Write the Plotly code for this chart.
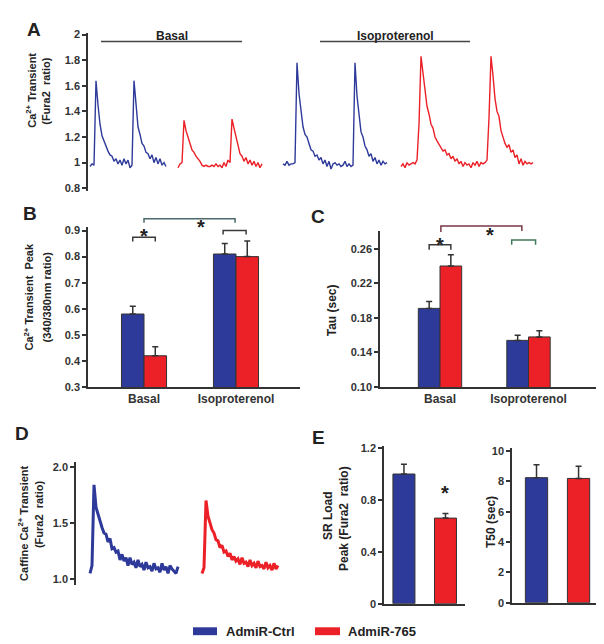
import plotly.graph_objects as go

W, H = 604, 644
BLUE = "#2e3a9a"
RED = "#ec2027"
INK = "#333333"
FONT = "Liberation Sans, Arial, sans-serif"

# ---- Panel A: Fura2 ratio traces, one sample every 2 time units
a_step = 2
a_starts = [82, 170, 275, 393]
a_basal_ctrl = [0.97, 0.99, 0.98, 1.64, 1.45, 1.30, 1.21, 1.17, 1.12, 1.09, 1.06, 1.05, 1.01, 1.03,
                0.99, 1.02, 0.98, 1.03, 0.99, 1.02, 0.96, 0.98, 1.64, 1.42, 1.28, 1.22, 1.15, 1.13,
                1.08, 1.07, 1.03, 1.06, 1.00, 1.04, 0.99, 1.03, 0.98, 1.00, 0.97]
a_basal_765 = [0.96, 0.99, 1.00, 1.33, 1.25, 1.19, 1.15, 1.10, 1.08, 1.05, 1.03, 1.01, 0.98, 0.97,
               0.98, 0.97, 0.97, 0.98, 0.97, 0.99, 0.97, 0.98, 0.96, 1.00, 0.97, 1.02, 1.00, 1.34,
               1.27, 1.20, 1.12, 1.07, 1.05, 1.01, 1.04, 0.99, 1.02, 0.98, 1.01, 0.97, 1.00, 0.96, 0.99]
a_iso_ctrl = [0.99, 0.98, 1.01, 0.98, 0.99, 0.99, 1.00, 1.78, 1.54, 1.40, 1.28, 1.22, 1.20, 1.15,
              1.10, 1.09, 1.05, 1.06, 1.02, 1.04, 0.99, 1.02, 0.97, 1.01, 0.95, 0.99, 1.00, 0.98,
              0.99, 0.97, 0.98, 1.01, 0.97, 0.99, 0.97, 0.98, 1.78, 1.52, 1.36, 1.24, 1.20, 1.13,
              1.10, 1.05, 1.07, 1.01, 1.04, 0.99, 1.02, 0.98, 1.01, 0.99, 1.00]
a_iso_765 = [0.97, 0.99, 0.96, 1.00, 0.98, 0.99, 1.00, 0.99, 1.02, 1.30, 1.83, 1.70, 1.55, 1.44,
             1.38, 1.30, 1.27, 1.20, 1.17, 1.14, 1.12, 1.09, 1.10, 1.06, 1.07, 1.03, 1.05, 1.01,
             1.03, 0.99, 1.01, 0.97, 1.00, 0.98, 0.99, 0.96, 1.00, 0.98, 1.01, 0.97, 1.00, 0.99,
             1.00, 1.02, 1.35, 1.83, 1.68, 1.50, 1.40, 1.36, 1.25, 1.20, 1.15, 1.12, 1.14, 1.08,
             1.10, 1.04, 1.06, 0.99, 1.03, 0.98, 1.01, 0.99, 1.00, 0.99, 1.00]

# ---- Panels B and C: group means and SEM
groups = ["Basal", "Isoproterenol"]
b_ctrl, b_ctrl_err = [0.58, 0.81], [0.03, 0.04]
b_765, b_765_err = [0.42, 0.80], [0.035, 0.06]
c_ctrl, c_ctrl_err = [0.191, 0.154], [0.008, 0.006]
c_765, c_765_err = [0.240, 0.158], [0.013, 0.007]

# ---- Panel D: caffeine-induced transients
d_step = 2
d_starts = [82, 194]
d_ctrl = [1.05, 1.12, 1.84, 1.64, 1.58, 1.51, 1.46, 1.41, 1.40, 1.33, 1.36, 1.27, 1.28, 1.24,
          1.25, 1.17, 1.22, 1.16, 1.19, 1.12, 1.19, 1.13, 1.15, 1.10, 1.17, 1.11, 1.13, 1.08,
          1.15, 1.10, 1.11, 1.07, 1.14, 1.09, 1.10, 1.06, 1.14, 1.08, 1.11, 1.05, 1.12, 1.09,
          1.07, 1.05, 1.11]
d_765 = [1.05, 1.10, 1.70, 1.56, 1.50, 1.44, 1.41, 1.35, 1.34, 1.28, 1.30, 1.24, 1.25, 1.20,
         1.23, 1.17, 1.20, 1.16, 1.18, 1.13, 1.19, 1.14, 1.15, 1.11, 1.17, 1.12, 1.14, 1.10,
         1.16, 1.11, 1.12, 1.09, 1.15, 1.10, 1.12, 1.08, 1.14, 1.09, 1.12]

# ---- Panel E: SR load and T50
e_sr, e_sr_err = [1.0, 0.66], [0.075, 0.035]
e_t50, e_t50_err = [8.25, 8.2], [0.85, 0.8]


def xd(p0, p1):
    return [p0 / W, p1 / W]


def yd(top, bottom):
    return [1 - bottom / H, 1 - top / H]


AX = {
    "A": dict(xa="x", ya="y", dx=xd(80, 530), dy=yd(21, 182), xr=[80, 530], yr=[0.777, 2.015]),
    "B": dict(xa="x2", ya="y2", dx=xd(80, 292), dy=yd(218, 381), xr=[-0.609, 1.696], yr=[0.3, 0.915]),
    "C": dict(xa="x3", ya="y3", dx=xd(372, 592), dy=yd(222, 381), xr=[-0.678, 1.808], yr=[0.1, 0.281]),
    "D": dict(xa="x4", ya="y4", dx=xd(68, 280), dy=yd(457, 582), xr=[68, 280], yr=[0.947, 2.044]),
    "E1": dict(xa="x5", ya="y5", dx=xd(376, 457), dy=yd(441, 601), xr=[-0.48, 1.47], yr=[0, 1.215]),
    "E2": dict(xa="x6", ya="y6", dx=xd(504, 592), dy=yd(443, 600), xr=[-0.583, 1.51], yr=[0, 10.2]),
}


def y_paper(key, v):
    a = AX[key]
    d, r = a["dy"], a["yr"]
    return d[0] + (v - r[0]) / (r[1] - r[0]) * (d[1] - d[0])


def err(vals):
    return dict(type="data", array=vals, arrayminus=[0] * len(vals), symmetric=False,
                color=INK, thickness=1.5, width=3)


fig = go.Figure()

# A traces
for vals, t0, col in zip([a_basal_ctrl, a_basal_765, a_iso_ctrl, a_iso_765], a_starts,
                         [BLUE, RED, BLUE, RED]):
    fig.add_trace(go.Scatter(x=[t0 + a_step * i for i in range(len(vals))], y=vals, mode="lines",
                             line=dict(color=col, width=1.4), xaxis="x", yaxis="y", showlegend=False))

# B and C bars
pos = [0, 1]
for key, ctrl, ce, mir, me in [("B", b_ctrl, b_ctrl_err, b_765, b_765_err),
                               ("C", c_ctrl, c_ctrl_err, c_765, c_765_err)]:
    a = AX[key]
    fig.add_trace(go.Bar(x=pos, y=ctrl, error_y=err(ce), marker=dict(color=BLUE, line=dict(color=INK, width=1)),
                         xaxis=a["xa"], yaxis=a["ya"], showlegend=False))
    fig.add_trace(go.Bar(x=pos, y=mir, error_y=err(me), marker=dict(color=RED, line=dict(color=INK, width=1)),
                         xaxis=a["xa"], yaxis=a["ya"], showlegend=False))

# D traces
for vals, t0, col in zip([d_ctrl, d_765], d_starts, [BLUE, RED]):
    fig.add_trace(go.Scatter(x=[t0 + d_step * i for i in range(len(vals))], y=vals, mode="lines",
                             line=dict(color=col, width=3), xaxis="x4", yaxis="y4", showlegend=False))

# E bars
for key, vals, ev in [("E1", e_sr, e_sr_err), ("E2", e_t50, e_t50_err)]:
    a = AX[key]
    fig.add_trace(go.Bar(x=pos, y=vals, width=0.53, error_y=err(ev),
                         marker=dict(color=[BLUE, RED], line=dict(color=INK, width=1)),
                         xaxis=a["xa"], yaxis=a["ya"], showlegend=False))

tickfont = dict(family=FONT, size=11, color=INK, weight="bold")
axline = dict(showline=True, linecolor=INK, linewidth=1.5, showgrid=False, zeroline=False,
              ticks="outside", ticklen=4, tickwidth=1.5, tickcolor=INK, tickfont=tickfont)

yticks = {
    "A": dict(tickvals=[0.8, 1, 1.2, 1.4, 1.6, 1.8, 2]),
    "B": dict(tickvals=[0.3, 0.4, 0.5, 0.6, 0.7, 0.8, 0.9]),
    "C": dict(tickvals=[0.10, 0.14, 0.18, 0.22, 0.26], tickformat=".2f"),
    "D": dict(tickvals=[1.0, 1.5, 2.0], tickformat=".1f"),
    "E1": dict(tickvals=[0, 0.4, 0.8, 1.2], ticktext=["0", "0.4", "0.8", "1.2"]),
    "E2": dict(tickvals=[0, 2, 4, 6, 8, 10]),
}

layout_axes = {}
for key, a in AX.items():
    xn = "xaxis" + a["xa"][1:]
    yn = "yaxis" + a["ya"][1:]
    if key in ("A", "D"):
        xcfg = dict(visible=False)
    elif key in ("B", "C"):
        xcfg = dict(axline, ticks="", tickvals=pos, ticktext=groups,
                    tickfont=dict(tickfont, size=12))
    else:
        xcfg = dict(axline, ticks="", showticklabels=False)
    layout_axes[xn] = dict(xcfg, domain=a["dx"], range=a["xr"], anchor=a["ya"])
    layout_axes[yn] = dict(axline, domain=a["dy"], range=a["yr"], anchor=a["xa"], **yticks[key])

shapes = []
annotations = []


def bracket(key, x0, x1, top, leg0, leg1, color):
    yt, y0, y1 = (y_paper(key, v) for v in (top, leg0, leg1))
    shapes.append(dict(type="path", xref=AX[key]["xa"], yref="paper",
                       path=f"M {x0},{y0} L {x0},{yt} L {x1},{yt} L {x1},{y1}",
                       line=dict(color=color, width=1.5)))


def star(key, x, y):
    annotations.append(dict(text="*", x=x, y=y_paper(key, y), xref=AX[key]["xa"], yref="paper",
                            showarrow=False, yshift=-5,
                            font=dict(family=FONT, size=20, color="#222", weight="bold")))


# significance marks
bracket("B", -0.1225, 0.1225, 0.874, 0.858, 0.858, "#3a3a3a")
bracket("B", 0.86, 1.11, 0.900, 0.885, 0.885, "#3a3a3a")
bracket("B", 0.0, 0.99, 0.945, 0.930, 0.930, "#4a6a6c")
star("B", 0.0, 0.897)
star("B", 0.62, 0.983)
bracket("C", -0.1225, 0.1225, 0.2646, 0.2589, 0.2589, "#3a3a3a")
bracket("C", 0.81, 1.08, 0.270, 0.2646, 0.2646, "#3f7a5a")
bracket("C", 0.01, 0.925, 0.2863, 0.2794, 0.2806, "#7a3848")
star("C", 0.0, 0.270)
star("C", 0.565, 0.2966)
star("E1", 1, 0.79)

# condition bars over panel A
for label, x0, x1 in [("Basal", 93, 234), ("Isoproterenol", 312, 462)]:
    shapes.append(dict(type="line", xref="x", yref="paper", x0=x0, x1=x1,
                       y0=1 - 30 / H, y1=1 - 30 / H, line=dict(color="#444", width=1.5)))
    annotations.append(dict(text=label, x=(x0 + x1) / 2, xref="x", y=1 - 15 / H, yref="paper",
                            showarrow=False, font=dict(family=FONT, size=12, color="#222", weight="bold")))


def ptext(text, px, py, size=11, angle=0):
    annotations.append(dict(text=text, x=px / W, y=1 - py / H, xref="paper", yref="paper",
                            showarrow=False, textangle=angle, xanchor="center", yanchor="middle",
                            font=dict(family=FONT, size=size, color="#222", weight="bold")))


# panel letters
for letter, px, py in [("A", 26, 18), ("B", 22, 205), ("C", 310, 208), ("D", 14, 428), ("E", 310, 432)]:
    ptext(letter, px, py, size=19)

# y axis titles
ptext("Ca<sup>2+</sup> Transient", 23, 80, angle=-90)
ptext("(Fura2  ratio)", 38, 80, angle=-90)
ptext("Ca<sup>2+</sup> Transient  Peak", 21, 290, angle=-90)
ptext("(340/380nm ratio)", 39, 290, angle=-90)
ptext("Tau (sec)", 324, 303, size=12, angle=-90)
ptext("Caffine Ca<sup>2+</sup> Transient", 15, 520, angle=-90)
ptext("(Fura2  ratio)", 31, 510, angle=-90)
ptext("SR Load", 320, 512, size=12, angle=-90)
ptext("Peak (Fura2  ratio)", 336, 515, size=12, angle=-90)
ptext("T50 (sec)", 483, 518, size=12, angle=-90)

# legend
for col, label, rx0, rx1, tx in [(BLUE, "AdmiR-Ctrl", 185, 209, 252), (RED, "AdmiR-765", 307, 332, 374)]:
    shapes.append(dict(type="rect", xref="paper", yref="paper", x0=rx0 / W, x1=rx1 / W,
                       y0=1 - 633 / H, y1=1 - 625 / H, fillcolor=col, line=dict(width=0)))
    ptext(label, tx, 629, size=13)

fig.update_layout(
    width=W, height=H, margin=dict(l=0, r=0, t=0, b=0),
    paper_bgcolor="white", plot_bgcolor="white",
    barmode="group", bargap=0.51, bargroupgap=0,
    shapes=shapes, annotations=annotations, showlegend=False,
    **layout_axes,
)

fig.write_html("out.html")
